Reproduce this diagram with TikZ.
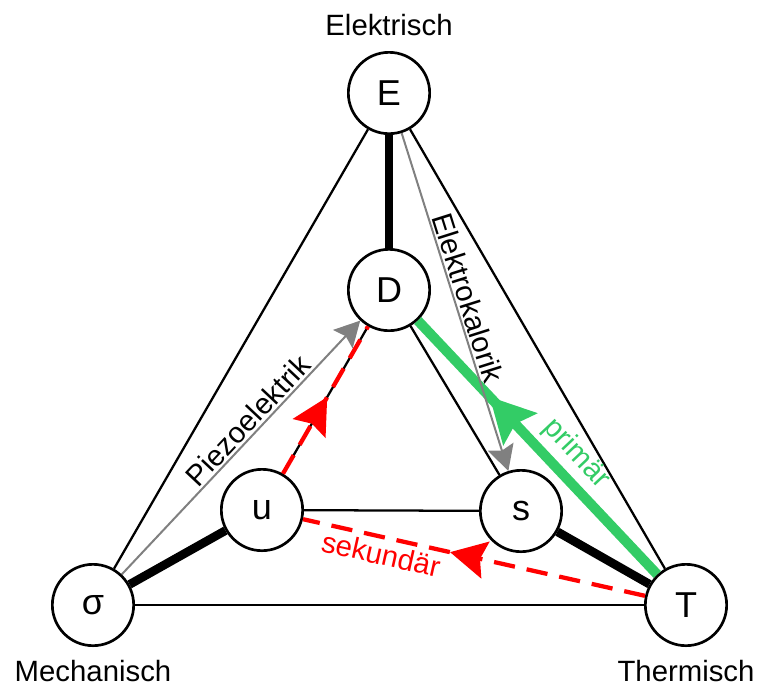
\documentclass[tikz,border=0pt]{standalone}
\usepackage{fontspec}
\setmainfont{Liberation Sans}
\usepackage{xcolor}
\usetikzlibrary{arrows.meta,decorations.markings}
\definecolor{gruen}{RGB}{51,204,102}

\begin{document}
\begin{tikzpicture}[x=0.75pt, y=-0.75pt,
    zustand/.style={circle, draw, line width=2pt, fill=white, minimum size=61pt, inner sep=0pt, font=\fontsize{27}{30}\selectfont},
    beschriftung/.style={font=\fontsize{22}{26}\selectfont},
    duenn/.style={line width=1.7pt},
    dick/.style={line width=6.5pt},
    effekt/.style={gray, line width=1.5pt, -{Stealth[length=19pt, width=20pt, inset=3pt]}},
    rot/.style={red, line width=3.2pt, dash pattern=on 16pt off 9pt},
    mitte rot/.style={postaction={decorate, decoration={markings, mark=at position #1 with {\arrow{Stealth[length=27pt, width=28pt, inset=4pt]}}}}},
    mitte gruen/.style={postaction={decorate, decoration={markings, mark=at position #1 with {\arrow{Stealth[length=33pt, width=34pt, inset=5pt]}}}}}]
    \useasboundingbox (0,0) rectangle (761,687);

    % Zustandsgroessen
    \node[zustand] (E) at (389,93) {E};
    \node[zustand] (D) at (389,290) {D};
    \node[zustand] (u) at (262,510) {u};
    \node[zustand] (s) at (521,511) {s};
    \node[zustand] (sigma) at (93,605) {σ};
    \node[zustand] (T) at (686,605) {T};

    % Ecken
    \node[beschriftung, anchor=base] (elektrisch) at (389,35) {Elektrisch};
    \node[beschriftung, anchor=base] (mechanisch) at (93,681) {Mechanisch};
    \node[beschriftung, anchor=base] (thermisch) at (686,681) {Thermisch};

    % Kanten
    \draw[duenn] (E) -- (sigma);
    \draw[duenn] (E) -- (T);
    \draw[duenn] (sigma) -- (T);
    \draw[duenn] (u) -- (s);
    \draw[duenn] (D) -- (s);
    \draw[duenn] (D) -- (u);
    \draw[dick] (E) -- (D);
    \draw[dick] (sigma) -- (u);
    \draw[dick] (s) -- (T);

    % Pyroelektrik
    \draw[gruen, line width=7.5pt, mitte gruen=0.7] (T) -- (D)
        node[beschriftung, pos=0.41, sloped, above, inner sep=4pt] (primaer) {primär};
    \draw[rot, mitte rot=0.57] (T) -- (u)
        node[beschriftung, pos=0.76, sloped, below, inner sep=3pt] (sekundaer) {sekundär};
    \draw[rot, mitte rot=0.52] (u) -- (D);

    % Piezoelektrik und Elektrokalorik
    \draw[effekt] (sigma) -- (D)
        node[beschriftung, text=black, pos=0.57, sloped, above, inner sep=1.5pt] (piezo) {Piezoelektrik};
    \draw[effekt] (E) -- (s)
        node[beschriftung, text=black, pos=0.5, sloped, above, inner sep=1.5pt] (kalorik) {Elektrokalorik};
\end{tikzpicture}
\end{document}
